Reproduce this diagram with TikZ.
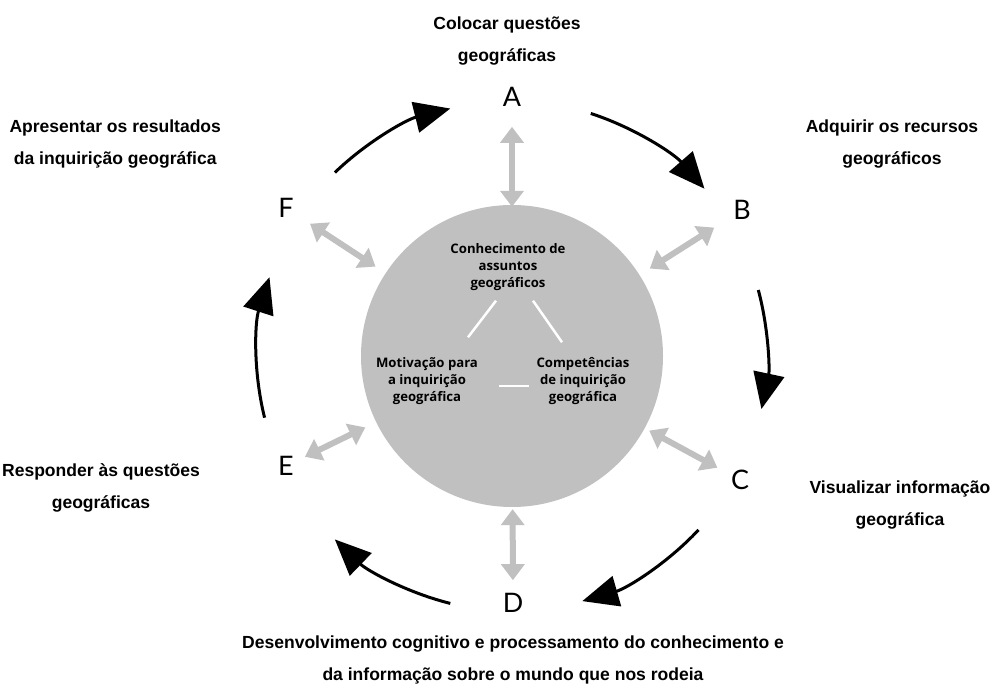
\documentclass[tikz,border=0pt]{standalone}
\usepackage{fontspec}
\setmainfont{Liberation Sans}
\newfontfamily\labfont{Liberation Sans}
\newfontfamily\letfont{Lato}
\newfontfamily\hubfont{Open Sans}
\usetikzlibrary{positioning,arrows.meta}
\definecolor{hubgray}{RGB}{192,192,192}

\begin{document}
\begin{tikzpicture}[x=1bp, y=1bp,
  every node/.style={font=\labfont\bfseries\fontsize{17.6}{32}\selectfont, align=center},
  letter/.style={font=\letfont\fontsize{27}{27}\selectfont, inner sep=2bp},
  hubtext/.style={font=\hubfont\bfseries\fontsize{13.2}{17}\selectfont, inner sep=1bp},
  link/.style={draw=hubgray, line width=6bp, {Triangle[length=16bp,width=23bp]}-{Triangle[length=16bp,width=23bp]}},
  stage/.style={line width=3bp, -{Triangle[length=36bp,width=31bp]}}]
  \useasboundingbox (0,0) rectangle (999,693);

  \node[circle, fill=hubgray, minimum size=302bp, inner sep=0] (hub) at (512,337) {};
  \node[hubtext] (topic) at (508,426) {Conhecimento de\\assuntos\\geográficos};
  \node[hubtext] (motiv) at (427,312) {Motivação para\\a inquirição\\geográfica};
  \node[hubtext] (skill) at (583,312) {Competências\\de inquirição\\geográfica};
  \draw[white, line width=2.5bp] ([xshift=-12bp, yshift=-9bp]topic.south) -- ([xshift=41bp, yshift=19bp]motiv.north);
  \draw[white, line width=2.5bp] ([xshift=25bp, yshift=-9bp]topic.south) -- ([xshift=-21bp, yshift=14bp]skill.north);
  \draw[white, line width=2.5bp, shorten <=20bp, shorten >=6bp] ([yshift=-5bp]motiv.east) -- ([yshift=-5bp]skill.west);

  \node[letter] (A) at (512,596) {A};
  \node[letter] (B) at (742,483) {B};
  \node[letter] (C) at (740,213) {C};
  \node[letter] (D) at (513,90) {D};
  \node[letter] (E) at (286,227) {E};
  \node[letter] (F) at (286,485) {F};

  \draw[link, shorten <=-2bp, shorten >=18bp] (hub) -- (A);
  \draw[link, shorten <=12bp, shorten >=20bp] (hub) -- (B);
  \draw[link, shorten <=5bp, shorten >=13bp] (hub) -- (C);
  \draw[link, shorten <=2bp, shorten >=11bp] (hub) -- (D);
  \draw[link, shorten <=12bp, shorten >=10bp] (hub) -- (E);
  \draw[link, shorten <=12bp, shorten >=17bp] (hub) -- (F);

  \draw[stage] (hub.center) ++(134:255) arc[start angle=134, end angle=104, radius=255];
  \draw[stage] (hub.center) ++(72:255) arc[start angle=72, end angle=41, radius=255];
  \draw[stage] (hub.center) ++(15:255) arc[start angle=15, end angle=-12, radius=255];
  \draw[stage] (hub.center) ++(-43:255) arc[start angle=-43, end angle=-74, radius=255];
  \draw[stage] (hub.center) ++(-104:255) arc[start angle=-104, end angle=-134, radius=255];
  \draw[stage] (hub.center) ++(-166:255) arc[start angle=-166, end angle=-198, radius=255];

  \node (qA) at (507,652) {Colocar questões\\geográficas};
  \node (qB) at (892,549) {Adquirir os recursos\\geográficos};
  \node (qC) at (900,188) {Visualizar informação\\geográfica};
  \node (qD) at (513,33) {Desenvolvimento cognitivo e processamento do conhecimento e\\da informação sobre o mundo que nos rodeia};
  \node (qE) at (101,205) {Responder às questões\\geográficas};
  \node[anchor=west] (qF) at (6,549) {Apresentar os resultados\\da inquirição geográfica};
\end{tikzpicture}
\end{document}
